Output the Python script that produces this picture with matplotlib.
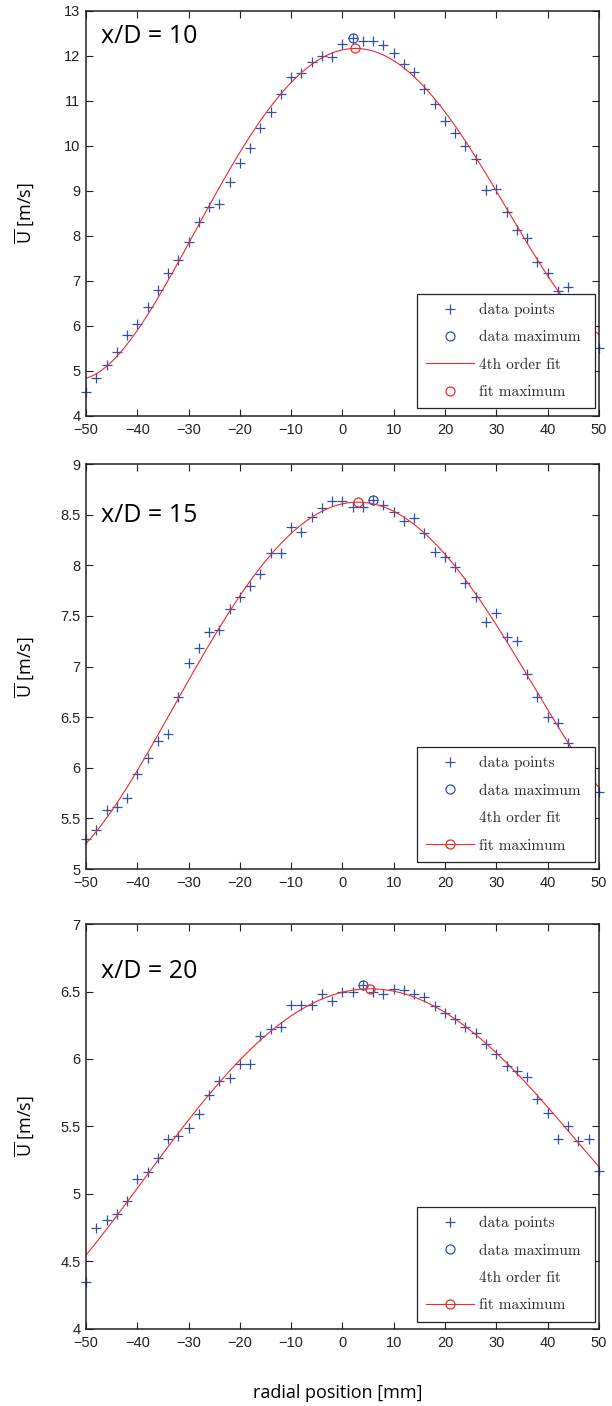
import numpy as np
import matplotlib
matplotlib.use('Agg')
import matplotlib.pyplot as plt
from matplotlib.lines import Line2D
from matplotlib.ticker import FormatStrFormatter, MultipleLocator

plt.rcParams['mathtext.fontset'] = 'custom'
plt.rcParams['mathtext.rm'] = 'Open Sans'

# radial positions [mm]
r = [-50, -48, -46, -44, -42, -40, -38, -36, -34, -32, -30, -28, -26, -24, -22, -20,
     -18, -16, -14, -12, -10, -8, -6, -4, -2, 0, 2, 4, 6, 8, 10, 12, 14, 16, 18, 20,
     22, 24, 26, 28, 30, 32, 34, 36, 38, 40, 42, 44, 46, 48, 50]

# mean velocity at x/D = 10
u10 = [4.52, 4.84, 5.13, 5.42, 5.79, 6.04, 6.41, 6.79, 7.18, 7.47, 7.86, 8.30, 8.64, 8.71,
       9.19, 9.61, 9.95, 10.40, 10.76, 11.16, 11.52, 11.61, 11.86, 12.00, 11.97, 12.26,
       12.40, 12.34, 12.32, 12.24, 12.07, 11.82, 11.63, 11.27, 10.93, 10.55, 10.29, 9.99,
       9.70, 9.01, 9.03, 8.53, 8.13, 7.96, 7.42, 7.18, 6.78, 6.87, 6.35, 6.05, 5.50]

# mean velocity at x/D = 15
u15 = [5.30, 5.39, 5.58, 5.61, 5.70, 5.94, 6.10, 6.26, 6.33, 6.70, 7.04, 7.18, 7.34, 7.36,
       7.57, 7.69, 7.80, 7.91, 8.12, 8.12, 8.38, 8.33, 8.48, 8.57, 8.64, 8.64, 8.58, 8.58,
       8.65, 8.60, 8.53, 8.44, 8.47, 8.32, 8.13, 8.08, 7.98, 7.83, 7.69, 7.44, 7.53, 7.29,
       7.25, 6.93, 6.70, 6.50, 6.44, 6.25, 6.10, 5.97, 5.76]

# mean velocity at x/D = 20
u20 = [4.35, 4.75, 4.81, 4.85, 4.95, 5.11, 5.16, 5.27, 5.41, 5.43, 5.49, 5.59, 5.73, 5.84,
       5.86, 5.96, 5.96, 6.17, 6.22, 6.24, 6.40, 6.40, 6.40, 6.48, 6.43, 6.50, 6.50, 6.55,
       6.50, 6.48, 6.52, 6.51, 6.48, 6.46, 6.39, 6.34, 6.30, 6.24, 6.19, 6.11, 6.04, 5.95,
       5.91, 5.87, 5.70, 5.60, 5.41, 5.50, 5.39, 5.41, 5.17]

panels = ['x/D = 10', 'x/D = 15', 'x/D = 20']
series = [u10, u15, u20]
ylims = [(4, 13), (5, 9), (4, 7)]
ysteps = [1, 0.5, 0.5]
label_pos = [0.92, 0.858, 0.867]
bottoms = [0.7043, 0.3819, 0.0548]

blue = '#2f52a8'
red = '#f02828'

fig = plt.figure(figsize=(6.12, 14.06), dpi=100)

for i in range(3):
    ax = fig.add_axes([0.1405, bottoms[i], 0.838, 0.288])
    x = np.array(r, dtype=float)
    y = np.array(series[i])

    # 4th order polynomial fit of the data
    p = np.polyfit(x, y, 4)
    xf = np.linspace(-50, 50, 101)
    yf = np.polyval(p, xf)
    xg = np.linspace(-50, 50, 1001)
    yg = np.polyval(p, xg)
    k = np.argmax(yg)
    j = np.argmax(y)

    ax.plot(x, y, '+', color=blue, markersize=7, markeredgewidth=0.9, clip_on=False)
    ax.plot(x[j], y[j], 'o', mfc='none', mec=blue, markersize=6.5, markeredgewidth=0.9)
    ax.plot(xf, yf, '-', color=red, linewidth=0.8)
    ax.plot(xg[k], yg[k], 'o', mfc='none', mec=red, markersize=6.5, markeredgewidth=0.9)

    ax.set_xlim(-50, 50)
    ax.set_ylim(*ylims[i])
    ax.xaxis.set_major_locator(MultipleLocator(10))
    ax.yaxis.set_major_locator(MultipleLocator(ysteps[i]))
    ax.yaxis.set_major_formatter(FormatStrFormatter('%g'))
    ax.tick_params(direction='in', top=True, right=True, length=5, width=0.8,
                   labelsize=10.5, colors='#222222')
    ax.tick_params(axis='x', pad=5)
    ax.tick_params(axis='y', pad=4)
    for lbl in ax.get_xticklabels() + ax.get_yticklabels():
        lbl.set_family('Liberation Sans')
    for s in ax.spines.values():
        s.set_linewidth(1.1)
        s.set_color('#222222')

    ax.text(0.029, label_pos[i], panels[i], transform=ax.transAxes,
            fontsize=18, family='Open Sans', va='baseline', ha='left')
    ax.set_ylabel(r'$\overline{\mathrm{U}}$ [m/s]', fontsize=13, family='Open Sans')
    ax.yaxis.set_label_coords(-0.097, 0.5)

    h_pts = Line2D([], [], linestyle='none', marker='+', color=blue, markersize=7,
                   markeredgewidth=0.9)
    h_dmax = Line2D([], [], linestyle='none', marker='o', mfc='none', mec=blue,
                    markersize=6.5, markeredgewidth=0.9)
    if i == 0:
        h_fit = Line2D([], [], color=red, linewidth=0.8)
        h_fmax = Line2D([], [], linestyle='none', marker='o', mfc='none', mec=red,
                        markersize=6.5, markeredgewidth=0.9)
    else:
        h_fit = Line2D([], [], color='none')
        h_fmax = Line2D([], [], color=red, linewidth=0.8, marker='o', mfc='none',
                        mec=red, markersize=6.5, markeredgewidth=0.9)
    leg = ax.legend([h_pts, h_dmax, h_fit, h_fmax],
                    ['data points', 'data maximum ', '4th order fit', 'fit maximum'],
                    loc='lower right', bbox_to_anchor=(0.992, 0.018), borderaxespad=0,
                    prop={'family': 'cmr10', 'size': 11}, fancybox=False,
                    framealpha=1, edgecolor='#222222', handlelength=3.1,
                    handletextpad=0.33, labelspacing=0.9, borderpad=0.6, numpoints=1)
    leg.get_frame().set_linewidth(0.9)
    for t in leg.get_texts():
        t.set_color('#2a2a2a')

fig.text(0.552, 0.006, 'radial position [mm]', ha='center', va='baseline',
         fontsize=13, family='Open Sans')

fig.savefig('out.png', dpi=100)
